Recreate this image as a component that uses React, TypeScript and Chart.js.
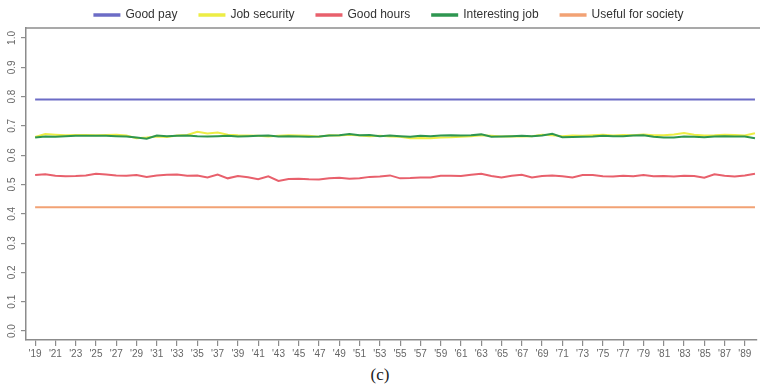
import React, { useEffect, useRef } from "react";
import { Chart, registerables } from "chart.js";

Chart.register(...registerables);

const years = [
  1919, 1920, 1921, 1922, 1923, 1924, 1925, 1926, 1927, 1928, 1929, 1930,
  1931, 1932, 1933, 1934, 1935, 1936, 1937, 1938, 1939, 1940, 1941, 1942,
  1943, 1944, 1945, 1946, 1947, 1948, 1949, 1950, 1951, 1952, 1953, 1954,
  1955, 1956, 1957, 1958, 1959, 1960, 1961, 1962, 1963, 1964, 1965, 1966,
  1967, 1968, 1969, 1970, 1971, 1972, 1973, 1974, 1975, 1976, 1977, 1978,
  1979, 1980, 1981, 1982, 1983, 1984, 1985, 1986, 1987, 1988, 1989, 1990,
];

const goodPay = [
  0.79, 0.79, 0.79, 0.79, 0.79, 0.79, 0.79, 0.79, 0.79, 0.79, 0.79, 0.79,
  0.79, 0.79, 0.79, 0.79, 0.79, 0.79, 0.79, 0.79, 0.79, 0.79, 0.79, 0.79,
  0.79, 0.79, 0.79, 0.79, 0.79, 0.79, 0.79, 0.79, 0.79, 0.79, 0.79, 0.79,
  0.79, 0.79, 0.79, 0.79, 0.79, 0.79, 0.79, 0.79, 0.79, 0.79, 0.79, 0.79,
  0.79, 0.79, 0.79, 0.79, 0.79, 0.79, 0.79, 0.79, 0.79, 0.79, 0.79, 0.79,
  0.79, 0.79, 0.79, 0.79, 0.79, 0.79, 0.79, 0.79, 0.79, 0.79, 0.79, 0.79,
];

const jobSecurity = [
  0.662, 0.672, 0.670, 0.668, 0.669, 0.669, 0.668, 0.669, 0.670, 0.667, 0.658, 0.660,
  0.664, 0.662, 0.667, 0.669, 0.680, 0.674, 0.677, 0.670, 0.668, 0.667, 0.666, 0.664,
  0.666, 0.668, 0.667, 0.666, 0.663, 0.668, 0.667, 0.670, 0.667, 0.665, 0.666, 0.664,
  0.663, 0.658, 0.659, 0.658, 0.660, 0.661, 0.663, 0.665, 0.668, 0.666, 0.664, 0.665,
  0.664, 0.665, 0.670, 0.668, 0.665, 0.667, 0.666, 0.668, 0.670, 0.667, 0.669, 0.668,
  0.671, 0.668, 0.668, 0.671, 0.676, 0.670, 0.667, 0.668, 0.670, 0.669, 0.667, 0.675,
];

const goodHours = [
  0.532, 0.535, 0.530, 0.528, 0.529, 0.531, 0.537, 0.534, 0.531, 0.530, 0.532, 0.526,
  0.531, 0.533, 0.534, 0.530, 0.531, 0.524, 0.534, 0.521, 0.529, 0.525, 0.518, 0.528,
  0.512, 0.519, 0.520, 0.518, 0.517, 0.521, 0.523, 0.520, 0.521, 0.526, 0.527, 0.531,
  0.521, 0.522, 0.524, 0.524, 0.530, 0.530, 0.529, 0.533, 0.537, 0.529, 0.524, 0.530,
  0.533, 0.524, 0.529, 0.531, 0.528, 0.524, 0.532, 0.532, 0.528, 0.527, 0.530, 0.528,
  0.532, 0.528, 0.529, 0.527, 0.530, 0.529, 0.523, 0.535, 0.530, 0.527, 0.531, 0.537,
];

const interestingJob = [
  0.660, 0.664, 0.663, 0.665, 0.666, 0.666, 0.666, 0.666, 0.665, 0.664, 0.660, 0.656,
  0.667, 0.665, 0.666, 0.667, 0.665, 0.664, 0.665, 0.666, 0.664, 0.665, 0.666, 0.667,
  0.664, 0.665, 0.664, 0.663, 0.664, 0.667, 0.668, 0.672, 0.668, 0.669, 0.665, 0.667,
  0.665, 0.663, 0.666, 0.665, 0.667, 0.668, 0.667, 0.668, 0.671, 0.663, 0.664, 0.665,
  0.666, 0.665, 0.667, 0.673, 0.661, 0.662, 0.663, 0.664, 0.666, 0.665, 0.665, 0.667,
  0.668, 0.663, 0.660, 0.660, 0.664, 0.663, 0.661, 0.664, 0.665, 0.664, 0.664, 0.658,
];

const usefulForSociety = [
  0.422, 0.422, 0.422, 0.422, 0.422, 0.422, 0.422, 0.422, 0.422, 0.422, 0.422, 0.422,
  0.422, 0.422, 0.422, 0.422, 0.422, 0.422, 0.422, 0.422, 0.422, 0.422, 0.422, 0.422,
  0.422, 0.422, 0.422, 0.422, 0.422, 0.422, 0.422, 0.422, 0.422, 0.422, 0.422, 0.422,
  0.422, 0.422, 0.422, 0.422, 0.422, 0.422, 0.422, 0.422, 0.422, 0.422, 0.422, 0.422,
  0.422, 0.422, 0.422, 0.422, 0.422, 0.422, 0.422, 0.422, 0.422, 0.422, 0.422, 0.422,
  0.422, 0.422, 0.422, 0.422, 0.422, 0.422, 0.422, 0.422, 0.422, 0.422, 0.422, 0.422,
];

const xTickYears = [
  1919, 1921, 1923, 1925, 1927, 1929, 1931, 1933, 1935, 1937, 1939, 1941,
  1943, 1945, 1947, 1949, 1951, 1953, 1955, 1957, 1959, 1961, 1963, 1965,
  1967, 1969, 1971, 1973, 1975, 1977, 1979, 1981, 1983, 1985, 1987, 1989,
];
const yTickValues = [0, 0.1, 0.2, 0.3, 0.4, 0.5, 0.6, 0.7, 0.8, 0.9, 1.0];

const seriesNames = ["Good pay", "Job security", "Good hours", "Interesting job", "Useful for society"];
const seriesColors = ["#6c6cc6", "#eded45", "#e8606c", "#2e9650", "#f2a274"];
const seriesValues = [goodPay, jobSecurity, goodHours, interestingJob, usefulForSociety];
const seriesOrder = [1, 2, 1, 0, 1];

const FONT = '"Liberation Sans", Arial, Helvetica, sans-serif';
const AXIS_COLOR = "#8c8c8c";

export default function App() {
  const canvasRef = useRef<HTMLCanvasElement | null>(null);

  useEffect(() => {
    if (!canvasRef.current) return;

    const legendFit = {
      id: "legendFit",
      beforeInit(chart: any) {
        const legend = chart.legend;
        if (!legend) return;
        const orig = legend.fit;
        legend.fit = function () {
          orig.call(this);
          this.height -= 3;
        };
      },
    };

    const frame = {
      id: "frame",
      afterDraw(chart: any) {
        const { ctx, chartArea } = chart;
        const ys = chart.scales.y;
        ctx.save();
        ctx.strokeStyle = AXIS_COLOR;
        ctx.lineWidth = 1.5;
        ctx.beginPath();
        ctx.moveTo(chartArea.left, chartArea.top);
        ctx.lineTo(chart.width, chartArea.top);
        ctx.stroke();
        ctx.font = `10px ${FONT}`;
        ctx.fillStyle = "#666";
        ctx.textAlign = "center";
        ctx.textBaseline = "middle";
        for (const v of yTickValues) {
          const py = ys.getPixelForValue(v);
          ctx.save();
          ctx.translate(chartArea.left - 14, py);
          ctx.rotate(-Math.PI / 2);
          ctx.fillText(v.toFixed(1), 0, 0);
          ctx.restore();
        }
        ctx.restore();
      },
    };

    const chart = new Chart(canvasRef.current, {
      type: "line",
      data: {
        datasets: seriesNames.map((name, i) => ({
          label: name,
          data: years.map((yr, j) => ({ x: yr, y: seriesValues[i][j] })),
          borderColor: seriesColors[i],
          backgroundColor: seriesColors[i],
          borderWidth: 2,
          pointRadius: 0,
          tension: 0,
          order: seriesOrder[i],
        })),
      },
      options: {
        animation: false,
        responsive: true,
        maintainAspectRatio: false,
        layout: { padding: { left: 21, right: 3, top: -13, bottom: 0 } },
        plugins: {
          legend: {
            position: "top",
            labels: {
              boxWidth: 25,
              boxHeight: 1.5,
              padding: 22,
              color: "#333",
              font: { family: FONT, size: 12 },
              sort: (a: any, b: any) => a.datasetIndex - b.datasetIndex,
            },
          },
          tooltip: { enabled: false },
        },
        scales: {
          x: {
            type: "linear",
            min: 1918.1,
            max: 1990.2,
            afterBuildTicks: (scale: any) => {
              scale.ticks = xTickYears.map((v) => ({ value: v }));
            },
            ticks: {
              autoSkip: false,
              maxRotation: 0,
              minRotation: 0,
              padding: 2,
              color: "#666",
              font: { family: FONT, size: 10 },
              callback: (v: any) => "'" + String(v).slice(2),
            },
            grid: { drawOnChartArea: false, drawTicks: true, tickLength: 6, color: AXIS_COLOR, lineWidth: 1.2 },
            border: { display: true, color: AXIS_COLOR, width: 1.5 },
          },
          y: {
            type: "linear",
            min: -0.0306,
            max: 1.034,
            afterBuildTicks: (scale: any) => {
              scale.ticks = yTickValues.map((v) => ({ value: v }));
            },
            ticks: { display: false },
            grid: { drawOnChartArea: false, drawTicks: true, tickLength: 5, color: AXIS_COLOR, lineWidth: 1.2 },
            border: { display: true, color: AXIS_COLOR, width: 1.5 },
          },
        },
      },
      plugins: [legendFit, frame],
    } as any);

    return () => chart.destroy();
  }, []);

  return (
    <div style={{ position: "absolute", left: 0, top: 0, width: 760, height: 392, background: "#fff" }}>
      <div style={{ position: "relative", width: 760, height: 362 }}>
        <canvas ref={canvasRef} />
      </div>
      <div
        style={{
          position: "absolute",
          left: 0,
          top: 364,
          width: 760,
          textAlign: "center",
          fontFamily: '"Liberation Serif", "DejaVu Serif", serif',
          fontSize: 17,
          color: "#222",
          lineHeight: "22px",
        }}
      >
        (c)
      </div>
    </div>
  );
}
